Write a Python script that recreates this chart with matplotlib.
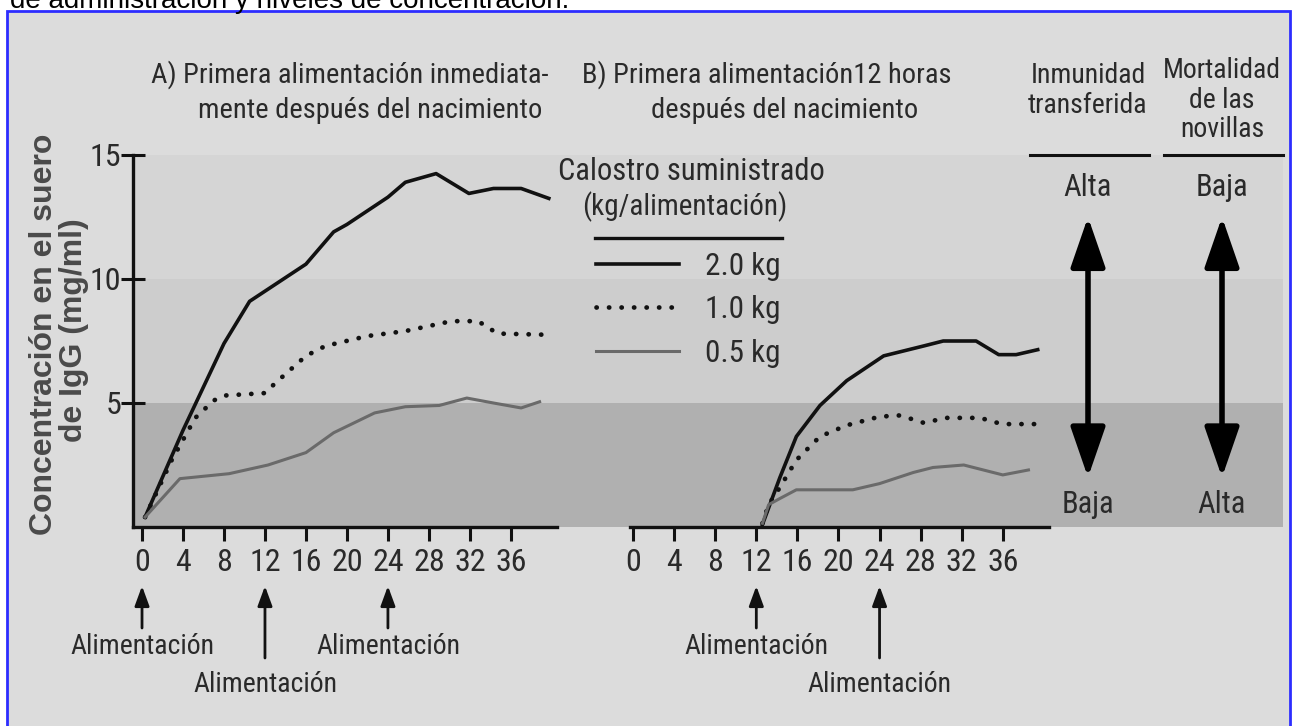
import matplotlib.pyplot as plt
from matplotlib import font_manager
from matplotlib.patches import Rectangle
from matplotlib.lines import Line2D

# the scan uses a condensed Helvetica; take the narrowest installed face
installed = {f.name for f in font_manager.fontManager.ttflist}
if 'Roboto Condensed' in installed:
    NARROW, K = 'Roboto Condensed', 1.0
elif 'Liberation Sans Narrow' in installed:
    NARROW, K = 'Liberation Sans Narrow', 1.0
else:
    NARROW, K = 'Liberation Sans', 0.88
WIDE = ['Liberation Sans', 'DejaVu Sans']
plt.rcParams['font.family'] = [NARROW, 'DejaVu Sans']
INK = '#2a2a2a'

# A) first feeding right after birth (hours, IgG mg/ml)
a_hrs_2 = [0.3, 4, 8, 10.5, 16, 18.7, 20, 24, 25.7, 28.7, 31.9, 34.3, 37, 39.7]
a_igg_2 = [0.4, 3.9, 7.4, 9.1, 10.6, 11.9, 12.2, 13.3, 13.9, 14.25, 13.45, 13.65, 13.65, 13.25]
a_hrs_1 = [0.3, 2.9, 5.2, 7, 8, 12, 13, 16, 17.9, 22, 25.7, 30.2, 32.8, 34.7, 39.7]
a_igg_1 = [0.4, 2.7, 4.4, 5.1, 5.3, 5.4, 5.8, 6.9, 7.3, 7.7, 7.9, 8.3, 8.3, 7.8, 7.75]
a_hrs_05 = [0.3, 3.7, 8.5, 12.3, 16, 18.7, 22.7, 25.7, 29, 31.7, 34.3, 37, 38.8]
a_igg_05 = [0.4, 1.95, 2.15, 2.5, 3.0, 3.8, 4.6, 4.85, 4.9, 5.2, 5.0, 4.8, 5.05]

# B) first feeding 12 h after birth
b_hrs_2 = [12.6, 14.3, 15.9, 18.2, 20.8, 24.4, 28.3, 30.2, 33.4, 35.6, 37.3, 39.4]
b_igg_2 = [0.1, 2.0, 3.65, 4.9, 5.9, 6.9, 7.3, 7.5, 7.5, 6.95, 6.95, 7.15]
b_hrs_1 = [12.6, 13.2, 14.3, 15.9, 18.2, 20.8, 24, 26, 28.3, 30.5, 33.8, 35.9, 39.1]
b_igg_1 = [0.15, 0.9, 1.6, 2.7, 3.65, 4.1, 4.45, 4.5, 4.2, 4.4, 4.4, 4.15, 4.15]
b_hrs_05 = [12.6, 13.2, 14.3, 15.9, 18.2, 21.4, 24, 27.3, 29.2, 32.2, 34.1, 36, 38.5]
b_igg_05 = [0.15, 0.9, 1.15, 1.5, 1.5, 1.5, 1.75, 2.2, 2.4, 2.5, 2.3, 2.1, 2.3]

doses = ['2.0 kg', '1.0 kg', '0.5 kg']
hour_ticks = list(range(0, 37, 4))
igg_ticks = [5, 10, 15]

feed_a = [0, 12, 24]
feed_a_long = [False, True, False]
feed_b = [12, 24]
feed_b_long = [False, True]

band_lo = [0, 5, 10]
band_hi = [5, 10, 15]
band_colors = ['#b0b0b0', '#cdcdcd', '#d5d5d5']

col_x = [1088, 1222]
col_heads = ['Inmunidad\ntransferida', 'Mortalidad\nde las\nnovillas']
col_head_y = [17.6, 17.2]
col_top = ['Alta', 'Baja']
col_bottom = ['Baja', 'Alta']

W, H = 1294, 726
fig = plt.figure(figsize=(W / 100, H / 100), dpi=100)
fig.patch.set_facecolor('white')


def box(l, t, r, b):
    return [l / W, 1 - b / H, (r - l) / W, (b - t) / H]


# scanned frame and the clipped caption above it
fig.add_artist(Rectangle((7 / W, -0.02), (1290 - 7) / W, 1 - 11 / H + 0.02,
                         transform=fig.transFigure, facecolor='#dcdcdc',
                         edgecolor='#2d2dff', lw=2, zorder=-10))
fig.text(10 / W, 1 - 8 / H, 'de administración y niveles de concentración.',
         fontsize=20, family=WIDE, va='baseline', color='black')

# shaded concentration bands behind everything
bg = fig.add_axes(box(133, 155, 1283, 527))
bg.set_xlim(133, 1283)
bg.set_ylim(0, 15)
bg.axis('off')
for lo, hi, c in zip(band_lo, band_hi, band_colors):
    bg.axhspan(lo, hi, color=c, lw=0)

axA = fig.add_axes(box(133, 155, 557, 527), facecolor='none')
axA.set_xlim(-0.88, 40.5)
axB = fig.add_axes(box(630, 155, 1049, 527), facecolor='none')
axB.set_xlim(-0.3, 40.5)

solid = dict(color='#111111', lw=2.6, solid_joinstyle='round')
dotted = dict(color='#111111', lw=3.4, ls=(0, (0.05, 2.6)), dash_capstyle='round')
grey = dict(color='#6a6a6a', lw=2.2, solid_joinstyle='round')

lines = []
lines += axA.plot(a_hrs_2, a_igg_2, **solid)
lines += axA.plot(a_hrs_1, a_igg_1, **dotted)
lines += axA.plot(a_hrs_05, a_igg_05, **grey)
axB.plot(b_hrs_2, b_igg_2, **solid)
axB.plot(b_hrs_1, b_igg_1, **dotted)
axB.plot(b_hrs_05, b_igg_05, **grey)

for ax in (axA, axB):
    ax.set_ylim(0, 15)
    ax.set_xticks(hour_ticks)
    ax.tick_params(axis='x', direction='out', length=10, width=2.2, pad=5,
                   labelsize=23 * K, labelcolor=INK, color='#111111')
    for s in ('top', 'right'):
        ax.spines[s].set_visible(False)
    ax.spines['bottom'].set_linewidth(2.4)
    ax.spines['bottom'].set_color('#111111')

axA.set_yticks(igg_ticks)
axA.tick_params(axis='y', direction='inout', length=17, width=2.2, pad=0,
                labelsize=23 * K, labelcolor=INK, color='#111111')
axA.spines['left'].set_linewidth(2.4)
axA.spines['left'].set_color('#111111')
axB.spines['left'].set_visible(False)
axB.set_yticks([])

fig.text(44 / W, 1 - 334 / H, 'Concentración en el suero', rotation=90,
         fontsize=23, fontweight='bold', family=WIDE, color='#4a4a4a',
         ha='center', va='center')
fig.text(74 / W, 1 - 330 / H, 'de IgG (mg/ml)', rotation=90,
         fontsize=23, fontweight='bold', family=WIDE, color='#4a4a4a',
         ha='center', va='center')

# panel titles
TS = 20.5 * K
fig.text(350 / W, 1 - 75 / H, 'A) Primera alimentación inmediata-', fontsize=TS,
         color=INK, ha='center', va='center')
fig.text(370 / W, 1 - 110 / H, 'mente después del nacimiento', fontsize=TS,
         color=INK, ha='center', va='center')
fig.text(767 / W, 1 - 75 / H, 'B) Primera alimentación12 horas', fontsize=TS,
         color=INK, ha='center', va='center')
fig.text(785 / W, 1 - 110 / H, 'después del nacimiento', fontsize=TS,
         color=INK, ha='center', va='center')


# feeding arrows under the hour axis
def fy(p):
    return (527 - p) / 372


for ax, times, longs in ((axA, feed_a, feed_a_long), (axB, feed_b, feed_b_long)):
    tr = ax.get_xaxis_transform()
    for t, lg in zip(times, longs):
        tail, lab = (658, 684) if lg else (628, 646)
        ax.annotate('', xy=(t, fy(586)), xytext=(t, fy(tail)), xycoords=tr,
                    textcoords=tr, annotation_clip=False,
                    arrowprops=dict(arrowstyle='-|>,head_length=0.6,head_width=0.22',
                                    lw=2, color='#111111', mutation_scale=20,
                                    shrinkA=0, shrinkB=0))
        ax.text(t, fy(lab), 'Alimentación', transform=tr, fontsize=20 * K,
                color=INK, ha='center', va='center')

# legend
fig.text(691 / W, 1 - 172 / H, 'Calostro suministrado', fontsize=22 * K, color=INK,
         ha='center', va='center')
fig.text(685 / W, 1 - 207 / H, '(kg/alimentación)', fontsize=21 * K, color=INK,
         ha='center', va='center')
fig.add_artist(Line2D([595 / W, 782 / W], [1 - 238 / H] * 2, lw=2.4, color='#111111'))
LS = 22.4 * K
fig.legend(lines, doses, loc='upper left', bbox_to_anchor=(596 / W, 1 - 252 / H),
           frameon=False, borderpad=0, borderaxespad=0, fontsize=LS,
           handlelength=83 / (LS * 100 / 72), handletextpad=0.85, labelspacing=0.46,
           labelcolor=INK)

# immunity / mortality columns
for x, head, hy, top, bot in zip(col_x, col_heads, col_head_y, col_top, col_bottom):
    bg.text(x, hy, head, fontsize=20 * K, color=INK, ha='center', va='center',
            linespacing=1.12, clip_on=False)
    bg.plot([x - 58, x + 61], [15, 15], color='#111111', lw=2.2, clip_on=False)
    bg.text(x, 13.7, top, fontsize=22 * K, color=INK, ha='center', va='center')
    bg.text(x, 0.9, bot, fontsize=22 * K, color=INK, ha='center', va='center')
    bg.annotate('', xy=(x, 12.5), xytext=(x, 2.0),
                arrowprops=dict(arrowstyle='<|-|>,head_length=1.1,head_width=0.38',
                                lw=4, color='black', mutation_scale=28,
                                shrinkA=0, shrinkB=0))

fig.savefig('out.png', dpi=100)
